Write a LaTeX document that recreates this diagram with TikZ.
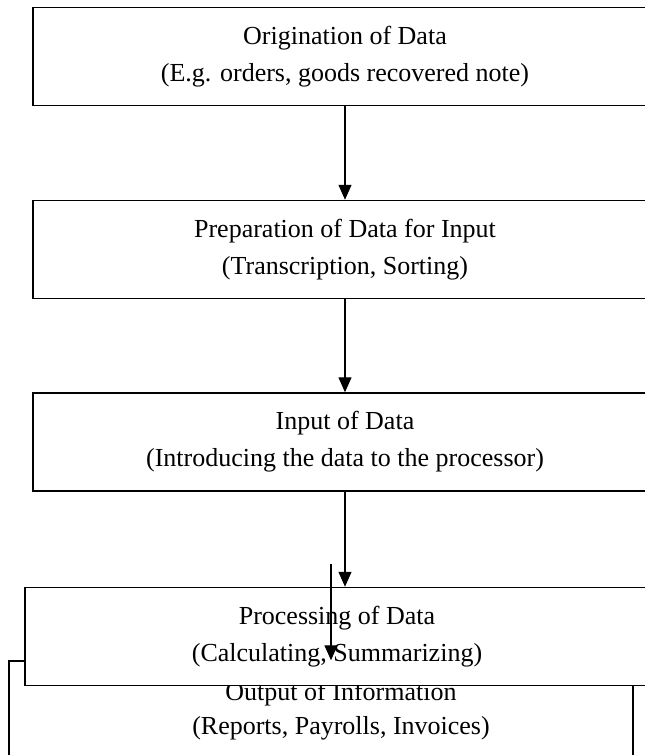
\documentclass[tikz,border=0pt]{standalone}
\usepackage{fontspec}
\setmainfont{Liberation Serif}
\usepackage{tikz}
\usetikzlibrary{arrows.meta}

\begin{document}
\begin{tikzpicture}[
  x=1pt, y=-1pt,
  every node/.style={font=\fontsize{26}{37}\selectfont},
  box/.style={draw=black, line width=1.5pt, fill=white, rectangle,
              minimum width=624pt, minimum height=98pt, inner sep=0pt,
              align=center},
  txt/.style={align=center, inner sep=0pt, font=\fontsize{26}{34}\selectfont},
  arr/.style={-{Triangle[length=15pt, width=13pt]}, line width=1.3pt}
]
\useasboundingbox (0,0) rectangle (645,755);
\clip (0,0) rectangle (645,755);

\node[box] (origin) at (345,56.5) {Origination of Data\\(E.g. orders, goods recovered note)};
\node[box] (prep) at (345,249.5) {Preparation of Data for Input\\(Transcription, Sorting)};
\node[box] (input) at (345,442) {Input of Data\\(Introducing the data to the processor)};

% output box sits under the processing box
\node[box] (output) at (321,710) {};
\node[txt] (outtxt) at (341,711) {Output of Information\\(Reports, Payrolls, Invoices)};
\node[box] (process) at (337,636.5) {Processing of Data\\(Calculating, Summarizing)};

\coordinate (outstart) at (331,564);

\draw[arr] (origin) -- (prep);
\draw[arr] (prep) -- (input);
\draw[arr] (input) -- (input |- process.north);
\draw[arr] (outstart) -- (outstart |- output.north);
\end{tikzpicture}
\end{document}
